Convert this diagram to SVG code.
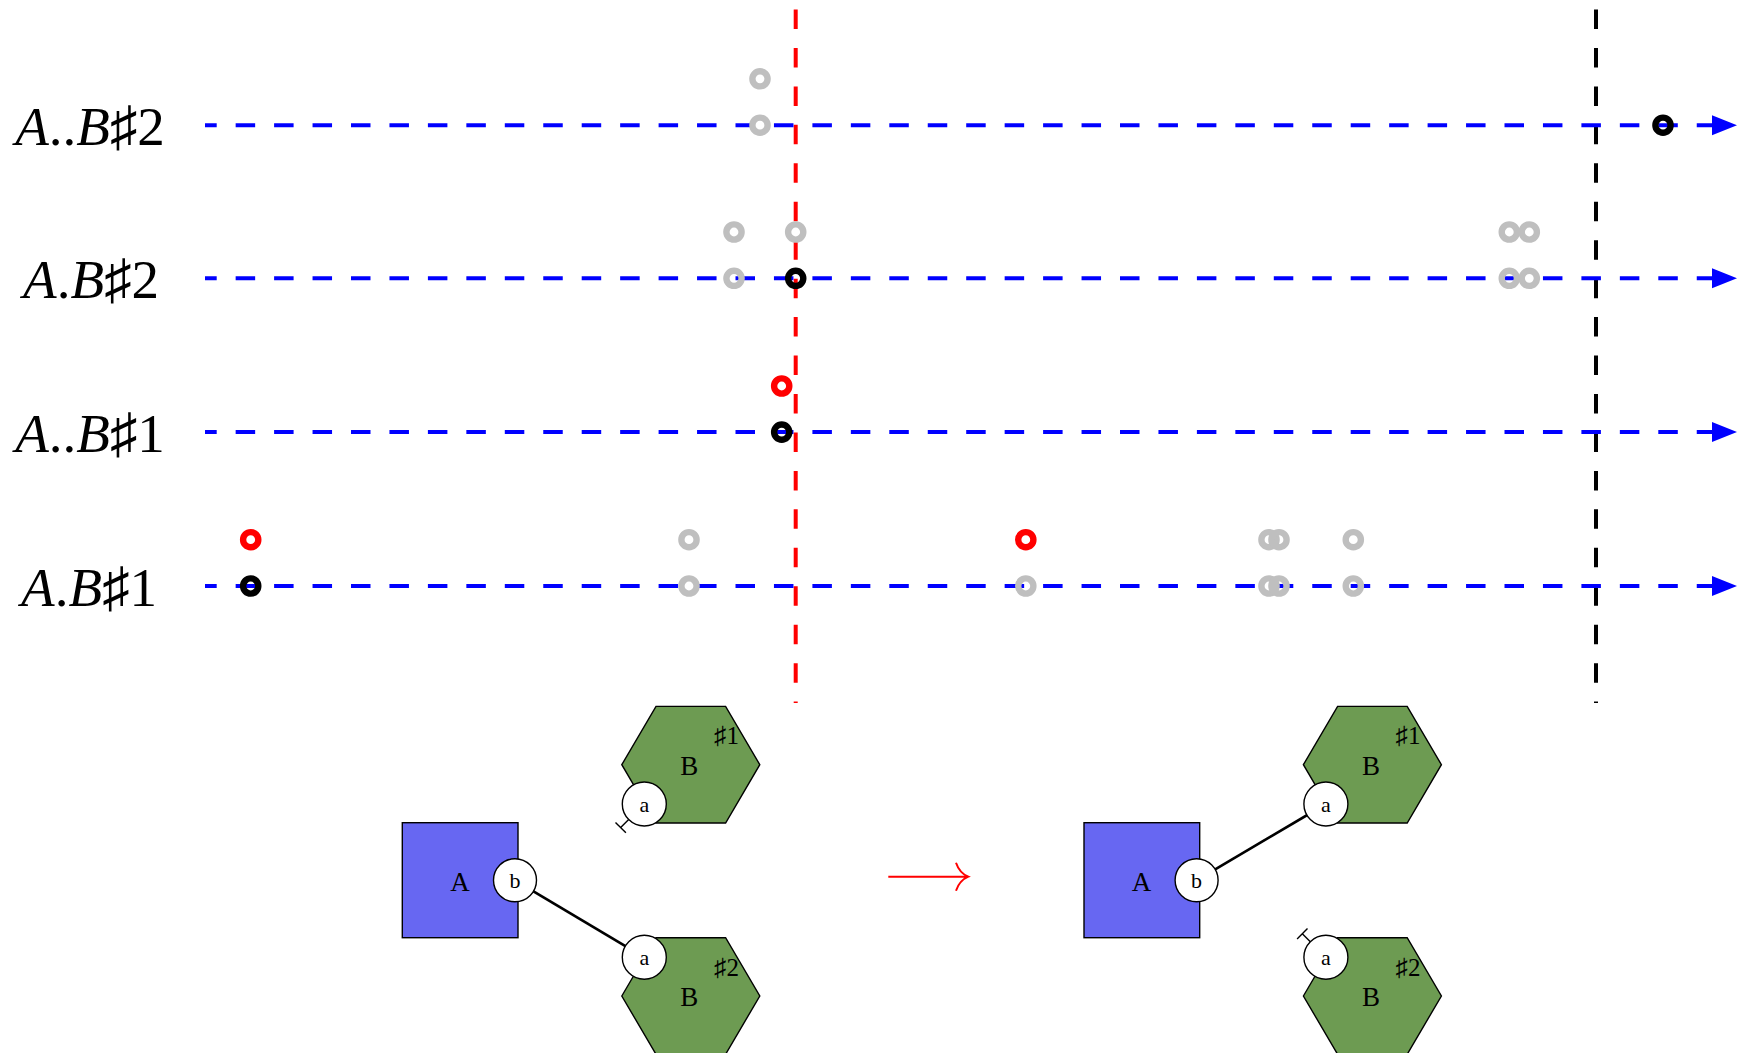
<svg xmlns="http://www.w3.org/2000/svg" width="1737" height="1053" viewBox="0 0 1737 1053">
<defs>
<style>
.axis{stroke:#0000ff;stroke-width:4;stroke-dasharray:19.5 18.95;stroke-dashoffset:7.8;fill:none}
.vl{stroke-width:4;stroke-dasharray:19.5 18.95;fill:none}
.ah{fill:#0000ff}
.ring{fill:none;stroke-width:6.4}
.g{stroke:#bfbfbf}.k{stroke:#000}.r{stroke:#ff0000}
.hex{fill:#6d9b52;stroke:#000;stroke-width:1.4}
.sq{fill:#6767f2;stroke:#000;stroke-width:1.4}
.port{fill:#fff;stroke:#000;stroke-width:1.4}
.stub{stroke:#000;stroke-width:1.4;fill:none}
.edge{stroke:#000;stroke-width:2.7;fill:none}
.t{font-family:"Liberation Serif","DejaVu Serif","DejaVu Sans",serif;fill:#000;text-anchor:middle}
.lab{font-size:55px}
.nm{font-size:27px}
.pt{font-size:22px}
.sh{font-size:25px}
.it{font-style:italic}
</style>
<polygon id="hexshape" points="-69,0 -34.8,-58.3 34.8,-58.3 69,0 34.8,58.3 -34.8,58.3"/>
</defs>

<g id="vertical-lines">
<line class="vl" x1="795.7" y1="9.5" x2="795.7" y2="703" stroke="#ff0000"/>
<line class="vl" x1="1596" y1="9.5" x2="1596" y2="703" stroke="#000"/>
</g>

<g id="axes">
<line class="axis" x1="205" y1="125.2" x2="1713" y2="125.2"/>
<polygon class="ah" points="1712,115.2 1737,125.2 1712,135.2"/>
<line class="axis" x1="205" y1="278.3" x2="1713" y2="278.3"/>
<polygon class="ah" points="1712,268.3 1737,278.3 1712,288.3"/>
<line class="axis" x1="205" y1="432.1" x2="1713" y2="432.1"/>
<polygon class="ah" points="1712,422.1 1737,432.1 1712,442.1"/>
<line class="axis" x1="205" y1="586" x2="1713" y2="586"/>
<polygon class="ah" points="1712,576 1737,586 1712,596"/>
</g>

<g id="row-labels">
<text class="t lab" x="90" y="145.2"><tspan class="it">A</tspan>..<tspan class="it">B</tspan>♯2</text>
<text class="t lab" x="91" y="298.3"><tspan class="it">A</tspan>.<tspan class="it">B</tspan>♯2</text>
<text class="t lab" x="90" y="452.1"><tspan class="it">A</tspan>..<tspan class="it">B</tspan>♯1</text>
<text class="t lab" x="89" y="606"><tspan class="it">A</tspan>.<tspan class="it">B</tspan>♯1</text>
</g>

<g id="events">
<circle class="ring g" cx="760" cy="78.8" r="7.6"/>
<circle class="ring g" cx="760" cy="125.2" r="7.6"/>
<circle class="ring k" cx="1663" cy="125.2" r="7.6"/>

<circle class="ring g" cx="734" cy="232" r="7.6"/>
<circle class="ring g" cx="734" cy="278.3" r="7.6"/>
<circle class="ring g" cx="795.7" cy="232" r="7.6"/>
<circle class="ring k" cx="795.7" cy="278.3" r="7.6"/>
<circle class="ring g" cx="1509.3" cy="232" r="7.6"/>
<circle class="ring g" cx="1529.3" cy="232" r="7.6"/>
<circle class="ring g" cx="1509.3" cy="278.3" r="7.6"/>
<circle class="ring g" cx="1529.3" cy="278.3" r="7.6"/>

<circle class="ring r" cx="781.7" cy="386" r="7.6"/>
<circle class="ring k" cx="781.7" cy="432.1" r="7.6"/>

<circle class="ring r" cx="250.7" cy="539.7" r="7.6"/>
<circle class="ring k" cx="250.7" cy="586" r="7.6"/>
<circle class="ring g" cx="689" cy="539.7" r="7.6"/>
<circle class="ring g" cx="689" cy="586" r="7.6"/>
<circle class="ring r" cx="1025.8" cy="539.7" r="7.6"/>
<circle class="ring g" cx="1025.8" cy="586" r="7.6"/>
<circle class="ring g" cx="1269" cy="539.7" r="7.6"/>
<circle class="ring g" cx="1279" cy="539.7" r="7.6"/>
<circle class="ring g" cx="1269" cy="586" r="7.6"/>
<circle class="ring g" cx="1279" cy="586" r="7.6"/>
<circle class="ring g" cx="1353.3" cy="539.7" r="7.6"/>
<circle class="ring g" cx="1353.3" cy="586" r="7.6"/>
</g>

<g id="connectors">
<line class="edge" x1="515" y1="880.3" x2="644.3" y2="957.3"/>
<line class="edge" x1="1196.6" y1="880.3" x2="1325.9" y2="804"/>
</g>

<g id="left-A">
<rect class="sq" x="402.3" y="822.7" width="115.7" height="115"/>
<text class="t nm" x="460" y="890.7">A</text>
<circle class="port" cx="515" cy="880.3" r="21.5"/>
<text class="t pt" x="515" y="887.8">b</text>
</g>

<g id="left-B1">
<use href="#hexshape" class="hex" transform="translate(690.8,764.7)"/>
<text class="t nm" x="689.3" y="775">B</text>
<text class="t sh" x="726.4" y="744.3">♯1</text>
<line class="stub" x1="628.7" y1="819.6" x2="620.7" y2="827.6"/>
<line class="stub" x1="615.5" y1="822.4" x2="625.9" y2="832.8"/>
<circle class="port" cx="644.3" cy="804" r="22"/>
<text class="t pt" x="644.3" y="811.5">a</text>
</g>

<g id="left-B2">
<use href="#hexshape" class="hex" transform="translate(690.8,996)"/>
<text class="t nm" x="689.3" y="1006.3">B</text>
<text class="t sh" x="726.4" y="975.6">♯2</text>
<circle class="port" cx="644.3" cy="957.3" r="22"/>
<text class="t pt" x="644.3" y="964.8">a</text>
</g>

<g id="transition-arrow">
<path d="M888.3,876.7 H967.5 M956,862.7 Q959.5,873 968.3,876.7 Q959.5,880.4 956,890.7" fill="none" stroke="#ff0000" stroke-width="2"/>
</g>

<g id="right-A">
<rect class="sq" x="1084" y="822.7" width="115.7" height="115"/>
<text class="t nm" x="1141.6" y="890.7">A</text>
<circle class="port" cx="1196.6" cy="880.3" r="21.5"/>
<text class="t pt" x="1196.6" y="887.8">b</text>
</g>

<g id="right-B1">
<use href="#hexshape" class="hex" transform="translate(1372.4,764.7)"/>
<text class="t nm" x="1370.9" y="775">B</text>
<text class="t sh" x="1408" y="744.3">♯1</text>
<circle class="port" cx="1325.9" cy="804" r="22"/>
<text class="t pt" x="1325.9" y="811.5">a</text>
</g>

<g id="right-B2">
<use href="#hexshape" class="hex" transform="translate(1372.4,996)"/>
<text class="t nm" x="1370.9" y="1006.3">B</text>
<text class="t sh" x="1408" y="975.6">♯2</text>
<line class="stub" x1="1310.3" y1="941.7" x2="1302.3" y2="933.7"/>
<line class="stub" x1="1297.1" y1="938.9" x2="1307.5" y2="928.5"/>
<circle class="port" cx="1325.9" cy="957.3" r="22"/>
<text class="t pt" x="1325.9" y="964.8">a</text>
</g>
</svg>
